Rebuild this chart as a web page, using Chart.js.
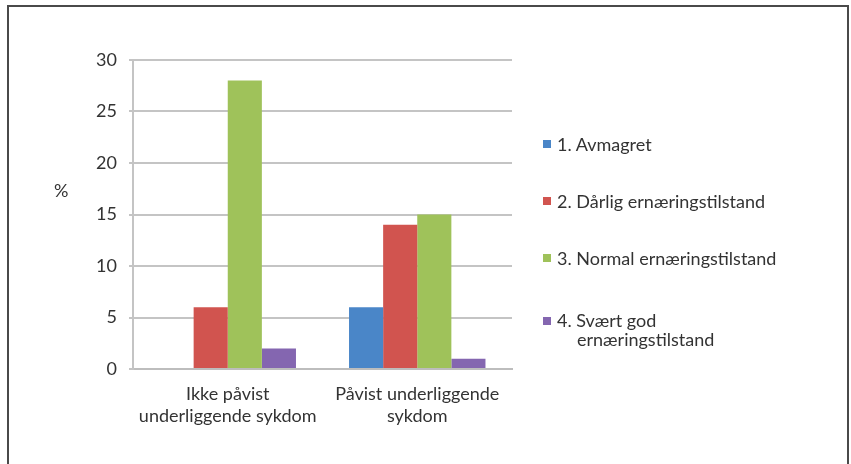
<!DOCTYPE html>
<html>
<head>
<meta charset="utf-8">
<script src="https://cdn.jsdelivr.net/npm/chart.js@4"></script>
<style>
  body { margin: 0; background: #fff; font-family: Lato, "Open Sans", sans-serif; }
  #wrap { position: relative; width: 851px; height: 464px; overflow: hidden; }
  #ramme { position: absolute; left: 7px; top: 5px; width: 838px; height: 480px; border: 2px solid #4a4a4a; }
  #myChart { position: absolute; left: 0; top: 0; }
  #yTittel { position: absolute; left: 54px; top: 179px; font-size: 18px; color: #333; }
  #legende { position: absolute; left: 543px; top: 134px; color: #333; font-size: 18px; }
  .post { display: flex; align-items: flex-start; line-height: 20px; margin-bottom: 37px; }
  .post.to { padding-top: 6px; line-height: 19px; }
  .boks { width: 8px; height: 8px; margin-top: 6px; margin-right: 6px; flex: none; }
  .linje2 { padding-left: 20px; }
</style>
</head>
<body>
<div id="wrap">
  <div id="ramme"></div>
  <canvas id="myChart" width="851" height="464"></canvas>
  <div id="yTittel">%</div>
  <div id="legende"></div>
</div>
<script>
const kategorier = [["Ikke påvist", "underliggende sykdom"], ["Påvist underliggende", "sykdom"]]
const serieNavn = ["1. Avmagret", "2. Dårlig ernæringstilstand", "3. Normal ernæringstilstand", "4. Svært god\nernæringstilstand"]
const avmagret = [0, 6]
const darlig = [6, 14]
const normal = [28, 15]
const sværtGod = [2, 1]
const yTicks = [0, 5, 10, 15, 20, 25, 30]
const farger = ["#4a86c8", "#d1544f", "#9fc25a", "#8466b0"]

const verdier = [avmagret, darlig, normal, sværtGod]
const tekstFont = { family: "Lato, 'Open Sans', sans-serif", size: 18, lineHeight: "22px" }

const datasets = verdier.map((v, i) => ({
    label: serieNavn[i],
    data: v,
    backgroundColor: farger[i],
    borderWidth: 0,
    barPercentage: 1,
    categoryPercentage: 0.72
}))

const chart = document.querySelector("#myChart")
const grafica = new Chart(chart, {
    type: "bar",
    data: { labels: kategorier, datasets: datasets },
    options: {
        responsive: false,
        animation: false,
        layout: { padding: { top: 60, right: 339, left: 0, bottom: 0 } },
        plugins: { legend: { display: false }, tooltip: { enabled: false } },
        scales: {
            x: {
                grid: { display: false, drawTicks: false },
                border: { color: "#bdbdbd", width: 2 },
                ticks: { color: "#333", font: tekstFont, padding: 14 },
                afterFit: scale => { scale.height = 95 }
            },
            y: {
                min: 0,
                max: 30,
                afterBuildTicks: scale => { scale.ticks = yTicks.map(v => ({ value: v })) },
                grid: { color: "#c4c4c4", lineWidth: 2, tickLength: 4 },
                border: { color: "#c4c4c4", width: 2 },
                ticks: { color: "#333", font: tekstFont, padding: 12 },
                afterFit: scale => { scale.width = 133 }
            }
        }
    }
})

// legende til høyre
const legende = document.querySelector("#legende")
serieNavn.forEach((navn, i) => {
    const linjer = navn.split("\n")
    const post = document.createElement("div")
    post.className = "post" + (linjer.length > 1 ? " to" : "")
    const boks = document.createElement("span")
    boks.className = "boks"
    boks.style.backgroundColor = farger[i]
    const tekst = document.createElement("div")
    tekst.innerHTML = linjer.map((l, j) => `<div class="${j ? "linje2" : ""}">${l}</div>`).join("")
    post.appendChild(boks)
    post.appendChild(tekst)
    legende.appendChild(post)
})
</script>
</body>
</html>
